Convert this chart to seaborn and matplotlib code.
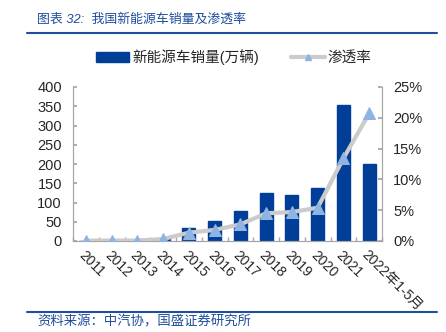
import numpy as np
import pandas as pd
import matplotlib
matplotlib.use("Agg")
import matplotlib.pyplot as plt
import seaborn as sns
from matplotlib.patches import Patch
from matplotlib.lines import Line2D
from matplotlib.ticker import FuncFormatter

categories = ["2011", "2012", "2013", "2014", "2015", "2016", "2017", "2018",
              "2019", "2020", "2021", "2022年1-5月"]
sales = [0.8, 1.3, 1.8, 7.5, 33.1, 50.7, 77.7, 125.6, 120.6, 136.7, 352.1, 200.3]
penetration = [0.05, 0.07, 0.08, 0.32, 1.35, 1.8, 2.7, 4.5, 4.7, 5.4, 13.4, 20.7]
left_ticks = [0, 50, 100, 150, 200, 250, 300, 350, 400]
right_ticks = [0, 5, 10, 15, 20, 25]

title = "图表 32:  我国新能源车销量及渗透率"
source = "资料来源：中汽协，国盛证券研究所"
bar_label = "新能源车销量(万辆)"
line_label = "渗透率"

sns.set_theme(style="white")
plt.rcParams['font.family'] = ['Liberation Sans', 'Noto Sans CJK SC']

BAR = "#003E97"
LINE = "#CBCBCB"
MARK = "#8DB4E2"
AX = "#A6A6A6"
TITLE_BLUE = "#1F4E9C"

fig = plt.figure(figsize=(4.46, 3.32), dpi=100)
ax = fig.add_axes([73/446, 1-241/332, (382-73)/446, (241-87)/332])

df = pd.DataFrame({"cat": categories, "sales": sales, "rate": penetration})
sns.barplot(data=df, x="cat", y="sales", ax=ax, color=BAR, width=0.5,
            saturation=1, edgecolor=BAR)
ax.set_ylim(0, 400)
ax.set_xlim(-0.5, len(categories) - 0.5)
ax.set_yticks(left_ticks)
ax.set_xlabel("")
ax.set_ylabel("")

ax2 = ax.twinx()
sns.lineplot(x=np.arange(len(categories)), y=df["rate"], ax=ax2, color=LINE,
             linewidth=3, marker="^", markersize=8, markerfacecolor=MARK,
             markeredgecolor=MARK, zorder=5)
ax2.set_ylim(0, 25)
ax2.set_yticks(right_ticks)
ax2.yaxis.set_major_formatter(FuncFormatter(lambda v, p: f"{int(v)}%"))
ax2.set_ylabel("")
ax.set_xlim(-0.5, len(categories) - 0.5)

for a in (ax, ax2):
    for s in a.spines.values():
        s.set_color(AX)
        s.set_linewidth(0.8)
    a.spines["top"].set_visible(False)

ax.tick_params(axis="y", direction="in", length=3, color=AX, labelsize=10.5,
               pad=8, left=True)
ax2.tick_params(axis="y", direction="in", length=3, color=AX, labelsize=10.5,
                pad=8, right=True)

ax.set_xticks(np.arange(len(categories)))
ax.set_xticklabels(categories, rotation=-45, ha="left", va="top",
                   rotation_mode="anchor", fontsize=10)
ax.tick_params(axis="x", length=0, pad=5)
# boundary ticks on x axis
ax.set_xticks(np.arange(-0.5, len(categories), 1.0), minor=True)
ax.tick_params(axis="x", which="minor", direction="in", length=3, color=AX,
               bottom=True)
ax.grid(False)
ax2.grid(False)

# legend
handles = [Patch(facecolor=BAR, edgecolor=BAR, label=bar_label),
           Line2D([0], [0], color=LINE, linewidth=3, marker="^", markersize=5,
                  markerfacecolor=MARK, markeredgecolor=MARK, label=line_label)]
fig.legend(handles=handles, loc="center", bbox_to_anchor=(0.5235, 1-57/332),
           ncol=2, frameon=False, fontsize=10.5, handlelength=2.3,
           handleheight=0.75, columnspacing=2.2, handletextpad=0.2)

# title and footer
fig.text(37/446, 1-20/332, title, fontsize=9.3, color=TITLE_BLUE,
         style="italic", va="center", ha="left")
fig.add_artist(Line2D([27/446, 437/446], [1-33/332, 1-33/332],
                      color=TITLE_BLUE, linewidth=1.5, transform=fig.transFigure))
fig.add_artist(Line2D([27/446, 437/446], [1-312/332, 1-312/332],
                      color=TITLE_BLUE, linewidth=1.5, transform=fig.transFigure))
fig.text(37/446, 1-322/332, source, fontsize=9.6, color=TITLE_BLUE,
         style="italic", va="center", ha="left")

fig.savefig("out.png", dpi=100)
